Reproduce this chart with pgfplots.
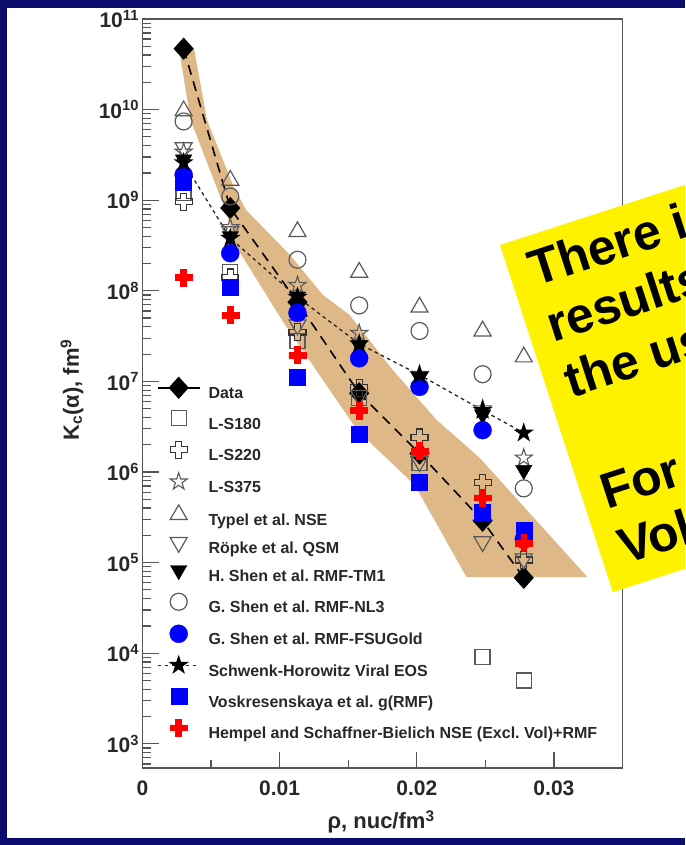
\documentclass[border=0pt]{standalone}
\usepackage{pgfplots}
\pgfplotsset{compat=1.18}
\usepackage{fontspec}
\setmainfont{Liberation Sans}
\frenchspacing

\definecolor{navybg}{RGB}{12,12,110}
\definecolor{band}{RGB}{222,184,135}
\definecolor{axgray}{RGB}{85,85,85}
\definecolor{txtgray}{RGB}{40,40,40}
\definecolor{mkgray}{RGB}{90,90,90}

% hollow and filled "fat plus" marks
\pgfdeclareplotmark{fatplus}{%
  \pgfpathmoveto{\pgfqpoint{-0.35\pgfplotmarksize}{\pgfplotmarksize}}%
  \pgfpathlineto{\pgfqpoint{0.35\pgfplotmarksize}{\pgfplotmarksize}}%
  \pgfpathlineto{\pgfqpoint{0.35\pgfplotmarksize}{0.35\pgfplotmarksize}}%
  \pgfpathlineto{\pgfqpoint{\pgfplotmarksize}{0.35\pgfplotmarksize}}%
  \pgfpathlineto{\pgfqpoint{\pgfplotmarksize}{-0.35\pgfplotmarksize}}%
  \pgfpathlineto{\pgfqpoint{0.35\pgfplotmarksize}{-0.35\pgfplotmarksize}}%
  \pgfpathlineto{\pgfqpoint{0.35\pgfplotmarksize}{-\pgfplotmarksize}}%
  \pgfpathlineto{\pgfqpoint{-0.35\pgfplotmarksize}{-\pgfplotmarksize}}%
  \pgfpathlineto{\pgfqpoint{-0.35\pgfplotmarksize}{-0.35\pgfplotmarksize}}%
  \pgfpathlineto{\pgfqpoint{-\pgfplotmarksize}{-0.35\pgfplotmarksize}}%
  \pgfpathlineto{\pgfqpoint{-\pgfplotmarksize}{0.35\pgfplotmarksize}}%
  \pgfpathlineto{\pgfqpoint{-0.35\pgfplotmarksize}{0.35\pgfplotmarksize}}%
  \pgfpathclose\pgfusepathqstroke}
\pgfdeclareplotmark{fatplus*}{%
  \pgfpathmoveto{\pgfqpoint{-0.35\pgfplotmarksize}{\pgfplotmarksize}}%
  \pgfpathlineto{\pgfqpoint{0.35\pgfplotmarksize}{\pgfplotmarksize}}%
  \pgfpathlineto{\pgfqpoint{0.35\pgfplotmarksize}{0.35\pgfplotmarksize}}%
  \pgfpathlineto{\pgfqpoint{\pgfplotmarksize}{0.35\pgfplotmarksize}}%
  \pgfpathlineto{\pgfqpoint{\pgfplotmarksize}{-0.35\pgfplotmarksize}}%
  \pgfpathlineto{\pgfqpoint{0.35\pgfplotmarksize}{-0.35\pgfplotmarksize}}%
  \pgfpathlineto{\pgfqpoint{0.35\pgfplotmarksize}{-\pgfplotmarksize}}%
  \pgfpathlineto{\pgfqpoint{-0.35\pgfplotmarksize}{-\pgfplotmarksize}}%
  \pgfpathlineto{\pgfqpoint{-0.35\pgfplotmarksize}{-0.35\pgfplotmarksize}}%
  \pgfpathlineto{\pgfqpoint{-\pgfplotmarksize}{-0.35\pgfplotmarksize}}%
  \pgfpathlineto{\pgfqpoint{-\pgfplotmarksize}{0.35\pgfplotmarksize}}%
  \pgfpathlineto{\pgfqpoint{-0.35\pgfplotmarksize}{0.35\pgfplotmarksize}}%
  \pgfpathclose\pgfusepathqfillstroke}
% five-pointed star outline, hollow and filled
\def\starpath{%
  \pgfpathmoveto{\pgfqpoint{0pt}{\pgfplotmarksize}}%
  \pgfpathlineto{\pgfqpoint{-0.2245\pgfplotmarksize}{0.309\pgfplotmarksize}}%
  \pgfpathlineto{\pgfqpoint{-0.9511\pgfplotmarksize}{0.309\pgfplotmarksize}}%
  \pgfpathlineto{\pgfqpoint{-0.3633\pgfplotmarksize}{-0.118\pgfplotmarksize}}%
  \pgfpathlineto{\pgfqpoint{-0.5878\pgfplotmarksize}{-0.809\pgfplotmarksize}}%
  \pgfpathlineto{\pgfqpoint{0pt}{-0.382\pgfplotmarksize}}%
  \pgfpathlineto{\pgfqpoint{0.5878\pgfplotmarksize}{-0.809\pgfplotmarksize}}%
  \pgfpathlineto{\pgfqpoint{0.3633\pgfplotmarksize}{-0.118\pgfplotmarksize}}%
  \pgfpathlineto{\pgfqpoint{0.9511\pgfplotmarksize}{0.309\pgfplotmarksize}}%
  \pgfpathlineto{\pgfqpoint{0.2245\pgfplotmarksize}{0.309\pgfplotmarksize}}%
  \pgfpathclose}
\pgfdeclareplotmark{starpoly}{\starpath\pgfusepathqstroke}
\pgfdeclareplotmark{starpoly*}{\starpath\pgfusepathqfillstroke}
% wider diamond
\pgfdeclareplotmark{wdiamond*}{%
  \pgfpathmoveto{\pgfqpoint{0pt}{\pgfplotmarksize}}%
  \pgfpathlineto{\pgfqpoint{0.9\pgfplotmarksize}{0pt}}%
  \pgfpathlineto{\pgfqpoint{0pt}{-\pgfplotmarksize}}%
  \pgfpathlineto{\pgfqpoint{-0.9\pgfplotmarksize}{0pt}}%
  \pgfpathclose\pgfusepathqfillstroke}

\begin{document}
\begin{tikzpicture}[x=1pt,y=1pt]
\fill[navybg] (0,0) rectangle (685,845);
\fill[white] (6.5,7) rectangle (685,837);

\begin{axis}[
  at={(142.5pt,77pt)}, anchor=south west,
  scale only axis, width=480pt, height=749pt,
  xmin=0, xmax=0.035,
  ymode=log, ymin=541, ymax=1e11,
  scaled x ticks=false,
  xtick={0,0.01,0.02,0.03},
  xticklabels={0,0.01,0.02,0.03},
  minor xtick={0.005,0.015,0.025},
  ytick={1e3,1e4,1e5,1e6,1e7,1e8,1e9,1e10,1e11},
  yticklabels={10\textsuperscript{3},10\textsuperscript{4},10\textsuperscript{5},10\textsuperscript{6},10\textsuperscript{7},10\textsuperscript{8},10\textsuperscript{9},10\textsuperscript{10},10\textsuperscript{11}},
  minor ytick={600,700,800,900,
    2e3,3e3,4e3,5e3,6e3,7e3,8e3,9e3,
    2e4,3e4,4e4,5e4,6e4,7e4,8e4,9e4,
    2e5,3e5,4e5,5e5,6e5,7e5,8e5,9e5,
    2e6,3e6,4e6,5e6,6e6,7e6,8e6,9e6,
    2e7,3e7,4e7,5e7,6e7,7e7,8e7,9e7,
    2e8,3e8,4e8,5e8,6e8,7e8,8e8,9e8,
    2e9,3e9,4e9,5e9,6e9,7e9,8e9,9e9,
    2e10,3e10,4e10,5e10,6e10,7e10,8e10,9e10},
  tick align=inside, tick pos=left,
  major tick length=16pt, minor tick length=8pt,
  axis line style={draw=axgray, line width=1.3pt},
  tick style={draw=axgray, line width=1.2pt},
  ticklabel style={font=\bfseries\fontsize{21}{21}\selectfont, text=txtgray},
  xticklabel style={yshift=-9pt},
  xlabel={ρ, nuc/fm\textsuperscript{3}},
  ylabel={K\textsubscript{c}(α), fm\textsuperscript{9}},
  label style={font=\bfseries\fontsize{22}{22}\selectfont, text=txtgray},
  xlabel style={at={(axis description cs:0.497,-0.072)}, anchor=center},
  ylabel style={at={(axis description cs:-0.147,0.505)}, anchor=center},
  legend image code/.code={\draw[mark repeat=2,mark phase=2] plot coordinates {(0pt,5.7pt) (21pt,5.7pt) (42pt,5.7pt)};},
  legend cell align=left,
  legend style={
    at={(axis description cs:0.030,0.521)}, anchor=north west,
    draw=none, fill=none, inner sep=0pt, outer sep=0pt,
    font=\bfseries\fontsize{16}{16}\selectfont, text=txtgray,
    row sep=6.8pt,
    nodes={inner sep=0pt, text height=16pt, text depth=5pt},
    /tikz/every odd column/.append style={column sep=8pt}},
]

% allowed band of the data
\addplot[fill=band, draw=none, forget plot] coordinates {
  (0.00265,4.8e10) (0.00375,4.8e10) (0.0047,7.7e9) (0.00665,1.4e9)
  (0.00755,7.8e8) (0.01074,2.5e8) (0.01315,9.0e7) (0.01511,5.4e7)
  (0.01824,1.34e7) (0.02145,3.75e6) (0.02459,1.43e6) (0.03245,6.9e4)
  (0.02363,6.9e4) (0.01985,7.2e5) (0.0157,2.84e6) (0.01031,4.4e7)
  (0.00688,3.0e8) (0.00615,6.9e8) (0.0054,1.4e9) (0.0035,7.7e9)
  (0.00265,4.8e10)};

\addplot[black, line width=1.6pt, dash pattern=on 10pt off 7pt,
  mark=wdiamond*, mark size=10pt, mark options={solid},
  legend image post style={solid}] coordinates {
  (0.003,4.7e10) (0.0064,8.2e8) (0.0113,7.5e7) (0.0158,7.4e6)
  (0.0202,1.6e6) (0.0248,2.9e5) (0.0278,6.8e4)};
\addlegendentry{Data}

\addplot[only marks, mark=square, mark size=7.5pt, draw=mkgray, line width=1.3pt] coordinates {
  (0.003,1.2e9) (0.0064,1.6e8) (0.0113,2.8e7) (0.0158,6.6e6)
  (0.0202,1.25e6) (0.0248,9.1e3) (0.0278,5.0e3)};
\addlegendentry{L-S180}

\addplot[only marks, mark=fatplus, mark size=8.5pt, draw=black!80, line width=1.2pt] coordinates {
  (0.003,9.6e8) (0.0064,1.4e8) (0.0113,3.5e7) (0.0158,8.5e6)
  (0.0202,2.4e6) (0.0248,7.6e5) (0.0278,1.07e5)};
\addlegendentry{L-S220}

\addplot[only marks, mark=starpoly, mark size=9pt, draw=mkgray, line width=1.1pt] coordinates {
  (0.003,3.4e9) (0.0064,5.0e8) (0.0113,1.15e8) (0.0158,3.4e7)
  (0.0202,1.2e7) (0.0248,5.0e6) (0.0278,1.43e6)};
\addlegendentry{L-S375}

\addplot[only marks, mark=triangle, mark size=9.8pt, draw=mkgray, line width=1.2pt] coordinates {
  (0.003,9.7e9) (0.0064,1.66e9) (0.0113,4.5e8) (0.0158,1.6e8)
  (0.0202,6.6e7) (0.0248,3.6e7) (0.0278,1.86e7)};
\addlegendentry{Typel et al. NSE}

\addplot[only marks, mark=triangle, mark size=9.8pt, mark options={rotate=180}, draw=mkgray, line width=1.2pt] coordinates {
  (0.003,3.8e9) (0.0064,4.5e8) (0.0113,4.2e7) (0.0158,7.0e6)
  (0.0202,1.3e6) (0.0248,1.7e5) (0.0278,1.1e5)};
\addlegendentry{Röpke et al. QSM}

\addplot[only marks, mark=triangle*, mark size=9.5pt, mark options={rotate=180}, black] coordinates {
  (0.003,2.8e9) (0.0064,4.0e8) (0.0113,8.6e7) (0.0158,2.5e7)
  (0.0202,1.1e7) (0.0248,4.3e6) (0.0278,1.05e6)};
\addlegendentry{H. Shen et al. RMF-TM1}

\addplot[only marks, mark=o, mark size=8.5pt, draw=mkgray, line width=1.2pt] coordinates {
  (0.003,7.4e9) (0.0064,1.1e9) (0.0113,2.2e8) (0.0158,6.9e7)
  (0.0202,3.6e7) (0.0248,1.2e7) (0.0278,6.6e5)};
\addlegendentry{G. Shen et al. RMF-NL3}

\addplot[only marks, mark=*, mark size=9pt, blue] coordinates {
  (0.003,1.9e9) (0.0064,2.6e8) (0.0113,5.7e7) (0.0158,1.8e7)
  (0.0202,8.7e6) (0.0248,2.9e6) (0.0278,1.8e5)};
\addlegendentry{G. Shen et al. RMF-FSUGold}

\addplot[black!85, line width=1.3pt, dash pattern=on 3.5pt off 3.5pt,
  mark=starpoly*, mark size=8.5pt, mark options={solid, black}] coordinates {
  (0.003,2.6e9) (0.0064,3.8e8) (0.0113,8.5e7) (0.0158,2.6e7)
  (0.0202,1.18e7) (0.0248,4.8e6) (0.0278,2.7e6)};
\addlegendentry{Schwenk-Horowitz Viral EOS}

\addplot[only marks, mark=square*, mark size=8pt, blue] coordinates {
  (0.003,1.6e9) (0.0064,1.1e8) (0.0113,1.1e7) (0.0158,2.6e6)
  (0.0202,7.8e5) (0.0248,3.6e5) (0.0278,2.3e5)};
\addlegendentry{Voskresenskaya et al. g(RMF)}

\addplot[only marks, mark=fatplus*, mark size=8.5pt, red, line width=0.5pt] coordinates {
  (0.003,1.4e8) (0.0064,5.4e7) (0.0113,1.95e7) (0.0158,4.8e6)
  (0.0202,1.7e6) (0.0248,5.2e5) (0.0278,1.65e5)};
\addlegendentry{Hempel and Schaffner-Bielich NSE (Excl. Vol)+RMF}
\end{axis}

% rotated yellow note, running off the right edge
\begin{scope}
\clip (0,0) rectangle (685,845);
\fill[yellow, rotate around={18:(500,600)}] (500,235) rectangle (960,600);
\begin{scope}[every node/.style={rotate=18, anchor=base west, inner sep=0pt,
    font=\bfseries\fontsize{50}{50}\selectfont, text=black}]
\node at (535,558) {There is};
\node at (553.05,502.46) {results};
\node at (571.1,446.9) {the use};
\node at (607.2,335.8) {For};
\node at (625.3,280.3) {Vol};
\end{scope}
\end{scope}

\pgfresetboundingbox
\path[use as bounding box] (0,0) rectangle (685,845);
\end{tikzpicture}
\end{document}
